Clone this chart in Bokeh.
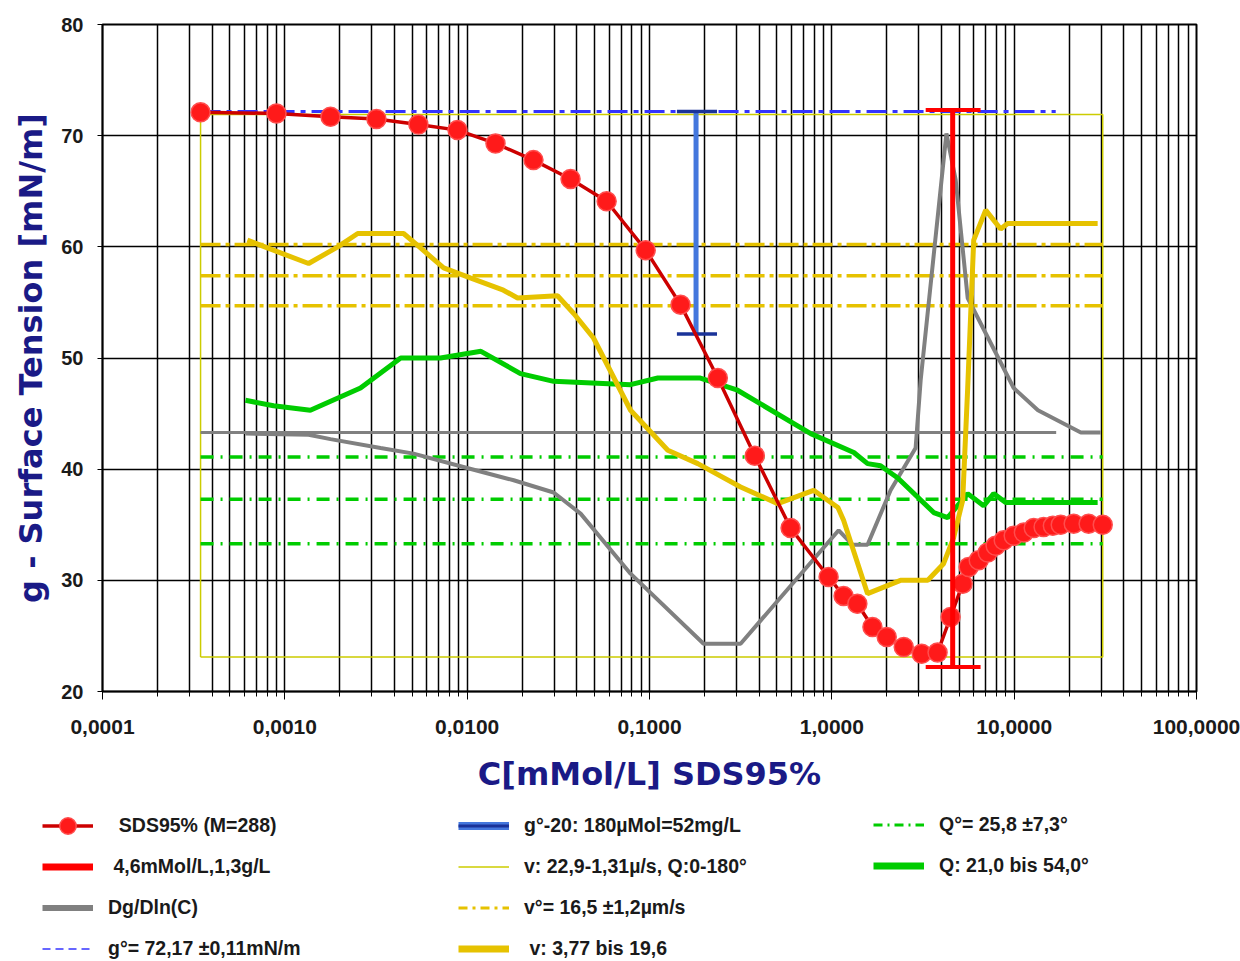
from bokeh.plotting import figure
from bokeh.models import (FixedTicker, CustomJSTickFormatter, Legend, LegendItem, Range1d)
from bokeh.embed import file_html
from bokeh.resources import INLINE

# ---------------- data ----------------
# SDS95% surface tension measurement
sds_c = [0.000345, 0.0009, 0.00178, 0.00318, 0.0054, 0.00885, 0.0143, 0.0231, 0.0369,
         0.0582, 0.0953, 0.148, 0.237, 0.378, 0.594, 0.96, 1.16, 1.38, 1.67, 2.0, 2.48,
         3.11, 3.80, 4.48, 5.22, 5.63, 6.39, 7.16, 7.91, 8.76, 9.94, 11.3, 12.8, 14.5,
         16.3, 18.0, 21.2, 25.6, 30.6]
sds_g = [72.1, 72.0, 71.7, 71.5, 71.0, 70.5, 69.3, 67.8, 66.1, 64.1, 59.7, 54.8, 48.2,
         41.2, 34.7, 30.3, 28.6, 27.9, 25.8, 24.9, 24.0, 23.4, 23.5, 26.7, 29.7, 31.2,
         31.8, 32.5, 33.1, 33.6, 34.0, 34.3, 34.7, 34.8, 34.9, 35.0, 35.1, 35.1, 35.0]

# Dg/Dln(C)
dg_c = [0.000608, 0.00135, 0.00178, 0.00335, 0.00508, 0.0100, 0.0180, 0.0298, 0.0419,
        0.0787, 0.198, 0.316, 1.09, 1.30, 1.57, 2.10, 2.88, 3.07, 4.25, 4.78, 5.56,
        9.94, 13.5, 23.2, 29.8]
dg_g = [43.2, 43.1, 42.7, 41.9, 41.4, 40.1, 39.0, 37.9, 36.0, 30.6, 24.3, 24.3, 34.5,
        33.2, 33.2, 38.1, 41.9, 48.0, 70.2, 66.0, 55.4, 47.3, 45.3, 43.3, 43.3]
dg_base_c = [0.000345, 17.0]
dg_base_g = [43.3, 43.3]

# Q: contact angle curve
q_c = [0.000608, 0.000867, 0.00138, 0.0026, 0.00432, 0.00714, 0.0119, 0.0196, 0.0298,
       0.0787, 0.111, 0.19, 0.304, 0.766, 1.32, 1.57, 1.85, 2.30, 3.62, 4.32, 5.56,
       6.80, 7.72, 8.98, 28.7]
q_g = [46.2, 45.7, 45.3, 47.3, 50.0, 50.0, 50.6, 48.6, 47.9, 47.6, 48.2, 48.2, 47.1,
       43.2, 41.5, 40.5, 40.3, 39.2, 36.1, 35.65, 37.8, 36.7, 37.8, 37.0, 37.0]
q_mean_levels = [41.1, 37.3, 33.3]

# v: velocity curve
v_c = [0.000623, 0.000803, 0.00135, 0.00195, 0.00251, 0.00448, 0.00555, 0.00743, 0.0104,
       0.0158, 0.0189, 0.0313, 0.0384, 0.0493, 0.0787, 0.126, 0.184, 0.316, 0.505, 0.794,
       1.08, 1.16, 1.57, 2.38, 3.36, 4.10, 4.66, 5.22, 5.56, 6.0, 6.98, 8.43, 9.21, 28.7]
v_g = [60.6, 59.9, 58.5, 60.0, 61.2, 61.2, 59.9, 58.1, 57.2, 56.1, 55.4, 55.6, 54.0,
       51.8, 45.3, 41.7, 40.5, 38.4, 36.9, 38.1, 36.55, 35.4, 28.8, 30.0, 30.0, 31.5,
       33.85, 37.2, 47.3, 60.6, 63.3, 61.6, 62.1, 62.1]
v_mean_levels = [60.2, 57.4, 54.7]
v_rect_c = [sds_c[0], sds_c[-1]]
v_rect_g = [23.1, 71.9]

# g° line
g0_c = [0.000345, 16.9]
g0_g = [72.17, 72.17]

# g°-20 marker (180 µMol)
g20_c = 0.18
g20_range = [72.17, 52.17]

# CMC 4.6 mMol/L
cmc_c = 4.6
cmc_range = [72.3, 22.2]

x_tick_decades = [1e-4, 1e-3, 1e-2, 1e-1, 1, 10, 100]
y_ticks = [20, 30, 40, 50, 60, 70, 80]

legend_col1 = ["  SDS95% (M=288)", " 4,6mMol/L,1,3g/L", "Dg/Dln(C)", "g°= 72,17 ±0,11mN/m"]
legend_col2 = ["g°-20: 180µMol=52mg/L", "v: 22,9-1,31µ/s, Q:0-180°", "v°= 16,5 ±1,2µm/s",
               " v: 3,77 bis 19,6"]
legend_col3 = ["Q°= 25,8 ±7,3°", "Q: 21,0 bis 54,0°"]

# ---------------- styles ----------------
NAVY = "#1a1a86"
S_RECT = dict(line_color="#cccc00", line_width=1.5)
S_VMEAN = dict(line_color="#e6c200", line_width=3.5, line_dash="20 5 4 5")
S_QMEAN = dict(line_color="#00cc00", line_width=3.5, line_dash="13 7 2 7")
S_DGBASE = dict(line_color="#808080", line_width=3)
S_DG = dict(line_color="#808080", line_width=4)
S_Q = dict(line_color="#00cc00", line_width=5)
S_V = dict(line_color="#e6c200", line_width=5)
S_G0 = dict(line_color="#3333ff", line_width=3, line_dash="20 6 5 6")
S_G20V = dict(line_color="#4477dd", line_width=5)
S_G20C = dict(line_color="#1a3399", line_width=3.5)
S_SDSL = dict(line_color="#cc0000", line_width=3.5)
S_SDSP = dict(marker="circle", size=19, fill_color="#ff1a1a", line_color="#ff4d4d", line_width=1.5)
S_CMCV = dict(line_color="#ff0000", line_width=5)
S_CMCC = dict(line_color="#ff0000", line_width=4)

MAIN_H = 795
LEG_H = 961 - MAIN_H

p = figure(width=1240, height=MAIN_H, x_axis_type="log",
           x_range=Range1d(1e-4, 100), y_range=Range1d(20, 80),
           output_backend="svg", toolbar_location=None,
           min_border_left=102, min_border_right=44, min_border_top=24,
           min_border_bottom=MAIN_H - 691)

minor = [m * d for d in x_tick_decades[:-1] for m in range(2, 10)]
p.xaxis.ticker = FixedTicker(ticks=x_tick_decades, minor_ticks=minor)
p.xaxis.formatter = CustomJSTickFormatter(code="return tick.toFixed(4).replace('.', ',');")
p.yaxis.ticker = FixedTicker(ticks=y_ticks)

for ax in (p.xaxis[0], p.yaxis[0]):
    ax.axis_line_color = "black"
    ax.axis_line_width = 1.5
    ax.major_tick_line_color = "black"
    ax.minor_tick_line_color = "black"
    ax.major_label_text_color = "#1a1a1a"
    ax.major_label_text_font = "Liberation Sans"
    ax.major_label_text_font_style = "bold"
    ax.axis_label_text_color = NAVY
    ax.axis_label_text_font = "DejaVu Sans"
    ax.axis_label_text_font_style = "bold"
    ax.axis_label_text_font_size = "32px"

p.xaxis.major_tick_out = 8
p.xaxis.major_tick_in = 0
p.xaxis.minor_tick_out = 5
p.xaxis.minor_tick_in = 0
p.xaxis.major_label_text_font_size = "21px"
p.xaxis.major_label_standoff = 20
p.xaxis.axis_label = "C[mMol/L] SDS95%"
p.xaxis.axis_label_standoff = 18

p.yaxis.major_tick_out = 5
p.yaxis.major_tick_in = 5
p.yaxis.minor_tick_out = 0
p.yaxis.minor_tick_in = 0
p.yaxis.major_label_text_font_size = "20px"
p.yaxis.major_label_standoff = 14
p.yaxis.axis_label = "g - Surface Tension [mN/m]"
p.yaxis.axis_label_standoff = 8

p.xgrid.grid_line_color = "black"
p.xgrid.grid_line_width = 1.5
p.xgrid.minor_grid_line_color = "black"
p.xgrid.minor_grid_line_width = 1.5
p.ygrid.grid_line_color = "black"
p.ygrid.grid_line_width = 1.5
p.outline_line_color = "black"
p.outline_line_width = 2
p.background_fill_color = "white"
p.border_fill_color = "white"

# yellow velocity range rectangle
rx = [v_rect_c[0], v_rect_c[1], v_rect_c[1], v_rect_c[0], v_rect_c[0]]
ry = [v_rect_g[0], v_rect_g[0], v_rect_g[1], v_rect_g[1], v_rect_g[0]]
p.line(rx, ry, **S_RECT)

# dash-dot mean levels
p.multi_line([v_rect_c for _ in v_mean_levels], [[v, v] for v in v_mean_levels], **S_VMEAN)
p.multi_line([v_rect_c for _ in q_mean_levels], [[v, v] for v in q_mean_levels], **S_QMEAN)

# gray derivative
p.line(dg_base_c, dg_base_g, **S_DGBASE)
p.line(dg_c, dg_g, **S_DG)

# green Q, yellow v
p.line(q_c, q_g, **S_Q)
p.line(v_c, v_g, **S_V)

# blue g° line
p.line(g0_c, g0_g, **S_G0)

# g°-20 bar
p.segment(x0=[g20_c], y0=[g20_range[0]], x1=[g20_c], y1=[g20_range[1]], **S_G20V)
p.segment(x0=[g20_c * 10 ** -0.105] * 2, y0=g20_range,
          x1=[g20_c * 10 ** 0.115] * 2, y1=g20_range, **S_G20C)

# SDS measurement
p.line(sds_c, sds_g, **S_SDSL)
p.scatter(sds_c, sds_g, **S_SDSP)

# CMC bar
p.segment(x0=[cmc_c], y0=[cmc_range[0]], x1=[cmc_c], y1=[cmc_range[1]], **S_CMCV)
p.segment(x0=[cmc_c * 10 ** -0.148] * 2, y0=cmc_range,
          x1=[cmc_c * 10 ** 0.153] * 2, y1=cmc_range, **S_CMCC)

# ---------------- legend panel (key only) ----------------
# key glyphs need a non-empty source; placed outside the visible range of the key panel
key_x = [-3.0, -2.0]
key_y = [-3.0, -2.0]

lf = figure(width=1240, height=LEG_H, x_range=Range1d(0, 1), y_range=Range1d(0, 1),
            output_backend="svg", toolbar_location=None,
            x_axis_location=None, y_axis_location=None,
            min_border_left=0, min_border_right=0, min_border_top=0, min_border_bottom=0)
lf.grid.visible = False
lf.outline_line_color = None
lf.background_fill_color = "white"
lf.border_fill_color = "white"

k_sds = [lf.line(key_x, key_y, **S_SDSL),
         lf.scatter(key_x, key_y, marker="circle", size=21, fill_color="#ff1a1a",
                    line_color="#ff4d4d", line_width=1.5)]
k_cmc = [lf.line(key_x, key_y, line_color="#ff0000", line_width=7)]
k_dg = [lf.line(key_x, key_y, line_color="#808080", line_width=6)]
k_g0 = [lf.line(key_x, key_y, line_color="#6666ff", line_width=2, line_dash="8 5")]
k_g20 = [lf.line(key_x, key_y, line_color="#4477dd", line_width=8),
         lf.line(key_x, key_y, line_color="#1a3399", line_width=3)]
k_rect = [lf.line(key_x, key_y, **S_RECT)]
k_vmean = [lf.line(key_x, key_y, line_color="#e6c200", line_width=3, line_dash="9 5 3 5")]
k_v = [lf.line(key_x, key_y, line_color="#e6c200", line_width=7)]
k_qmean = [lf.line(key_x, key_y, line_color="#00cc00", line_width=3, line_dash="9 5 2 5")]
k_q = [lf.line(key_x, key_y, line_color="#00cc00", line_width=7)]


def make_legend(labels, rends, x, nrows):
    items = [LegendItem(label=l, renderers=r) for l, r in zip(labels, rends)]
    h = 41.3 * nrows
    top = 8.5
    lg = Legend(items=items, location=(x, LEG_H - top - h), orientation="vertical",
                glyph_width=51, glyph_height=41, label_height=41, spacing=0,
                padding=0, margin=0, label_standoff=15,
                label_text_font="Liberation Sans", label_text_font_style="bold",
                label_text_font_size="19.5px", label_text_color="#1a1a1a",
                border_line_color=None, background_fill_alpha=0)
    lf.add_layout(lg, "center")


make_legend(legend_col1, [k_sds, k_cmc, k_dg, k_g0], 42, 4)
make_legend(legend_col2, [k_g20, k_rect, k_vmean, k_v], 458, 4)
make_legend(legend_col3, [k_qmean, k_q], 873, 2)

open("out.html", "w").write(file_html([p, lf], INLINE))
